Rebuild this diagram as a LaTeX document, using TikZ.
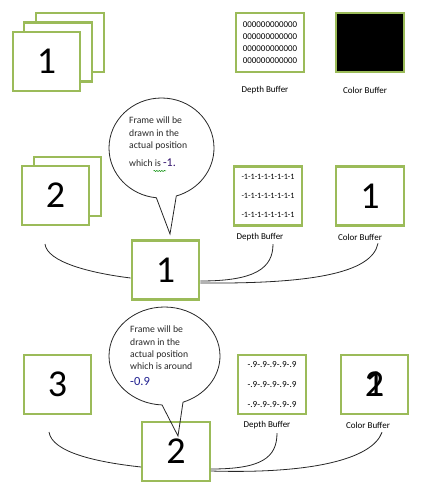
\documentclass[tikz,border=0pt]{standalone}
\usepackage{fontspec}
\setmainfont{Carlito}
\usetikzlibrary{shapes.callouts,decorations.pathmorphing,calc}
\definecolor{frgreen}{HTML}{9BBB59}
\definecolor{numpurple}{HTML}{30106B}
\definecolor{numblue}{HTML}{202090}
\begin{document}
\begin{tikzpicture}[x=1pt,y=-1pt,
  framebox/.style={draw=frgreen, line width=2.4pt, fill=white, minimum width=67.5pt, minimum height=59pt, inner sep=0pt, font=\fontsize{38}{40}\selectfont},
  bubble/.style={ellipse callout, draw=black!85, line width=0.8pt, inner sep=0pt, callout pointer arc=22},
  lbl/.style={font=\fontsize{9}{11}\selectfont, inner sep=0pt},
  btxt/.style={font=\fontsize{9.7}{12.3}\selectfont, align=left, anchor=north west, inner sep=0pt, text=black!85},
  conn/.style={draw=black!85, line width=0.8pt},
  squiggle/.style={draw=green!55!black, line width=0.5pt, decorate, decoration={snake, amplitude=0.6pt, segment length=2.5pt}},
]
\useasboundingbox (0,0) rectangle (425,502);

% ---------- top row ----------
\node[framebox] (f1c) at (70,42.5) {};
\node[framebox] (f1b) at (58,52) {};
\node[framebox] (f1a) at (46.5,61.5) {1};
\node[framebox, align=center, font=\fontsize{8.9}{12.2}\selectfont] (db1) at (270,42.5) {000000000000\\000000000000\\000000000000\\000000000000};
\node[framebox, fill=black] (cb1) at (370,42.5) {};
\node[lbl] (dl1) at (265,90) {Depth Buffer};
\node[lbl] (cl1) at (365,90) {Color Buffer};

% ---------- middle row ----------
\node[framebox] (f2b) at (67.5,186.5) {};
\node[framebox] (f2a) at (55.5,195.5) {2};
\node[bubble, minimum width=105pt, minimum height=100pt, callout absolute pointer={(170,234)}] (bub1) at (161.5,148) {};
\node[btxt] (bt1) at (129,117) {Frame will be\\drawn in the\\actual position\\[6pt]which is {\fontsize{12}{12}\selectfont\color{numpurple}-1.}};
\draw[squiggle] (153.5,171) -- (166,171);
\node[framebox] (m1) at (165.5,270) {1};
\node[framebox, align=center, font=\fontsize{8.15}{19}\selectfont] (db2) at (268,196) {-1-1-1-1-1-1-1-1\\-1-1-1-1-1-1-1-1\\-1-1-1-1-1-1-1-1};
\node[framebox] (cb2) at (370,196) {1};
\node[lbl] (dl2) at (260,237) {Depth Buffer};
\node[lbl] (cl2) at (360,237) {Color Buffer};

\coordinate (s2) at (45,244);
\draw[conn] (s2) .. controls (47,262) and (90,273) .. ([yshift=-8pt]m1.west);
\draw[conn] ([yshift=-11pt]m1.east) .. controls +(55,0) and +(0,24) .. ([shift={(13,3)}]dl2.south);
\draw[conn] ([yshift=-13pt]m1.east) .. controls +(110,1) and +(-6,30) .. ([shift={(18,3)}]cl2.south);

% ---------- bottom row ----------
\node[framebox] (f3) at (57.5,384.5) {3};
\node[framebox] (m2) at (176,451.5) {2};
\node[bubble, minimum width=111pt, minimum height=98pt, callout absolute pointer={(178,436)}] (bub2) at (164.5,356) {};
\node[btxt] (bt2) at (130,326) {Frame will be\\drawn in the\\actual position\\which is around\\[3pt]{\fontsize{12.5}{14}\selectfont\color{numblue}-0.9}};
\node[framebox, align=center, font=\fontsize{9.2}{20}\selectfont] (db3) at (272,384.5) {-.9-.9-.9-.9-.9\\-.9-.9-.9-.9-.9\\-.9-.9-.9-.9-.9};
\node[framebox] (cb3) at (374.5,384.5) {\rlap{1}2};
\node[lbl] (dl3) at (267,425) {Depth Buffer};
\node[lbl] (cl3) at (368,425) {Color Buffer};

\coordinate (s3) at (49,432);
\draw[conn] (s3) .. controls (52,452) and (95,462) .. ([yshift=-15.5pt]m2.west);
\draw[conn] ([yshift=-17.5pt]m2.east) .. controls +(50,0) and +(0,25) .. ([shift={(10,4)}]dl3.south);
\draw[conn] ([yshift=-19.5pt]m2.east) .. controls +(100,3) and +(-10,27) .. ([shift={(14,4)}]cl3.south);
\end{tikzpicture}
\end{document}
